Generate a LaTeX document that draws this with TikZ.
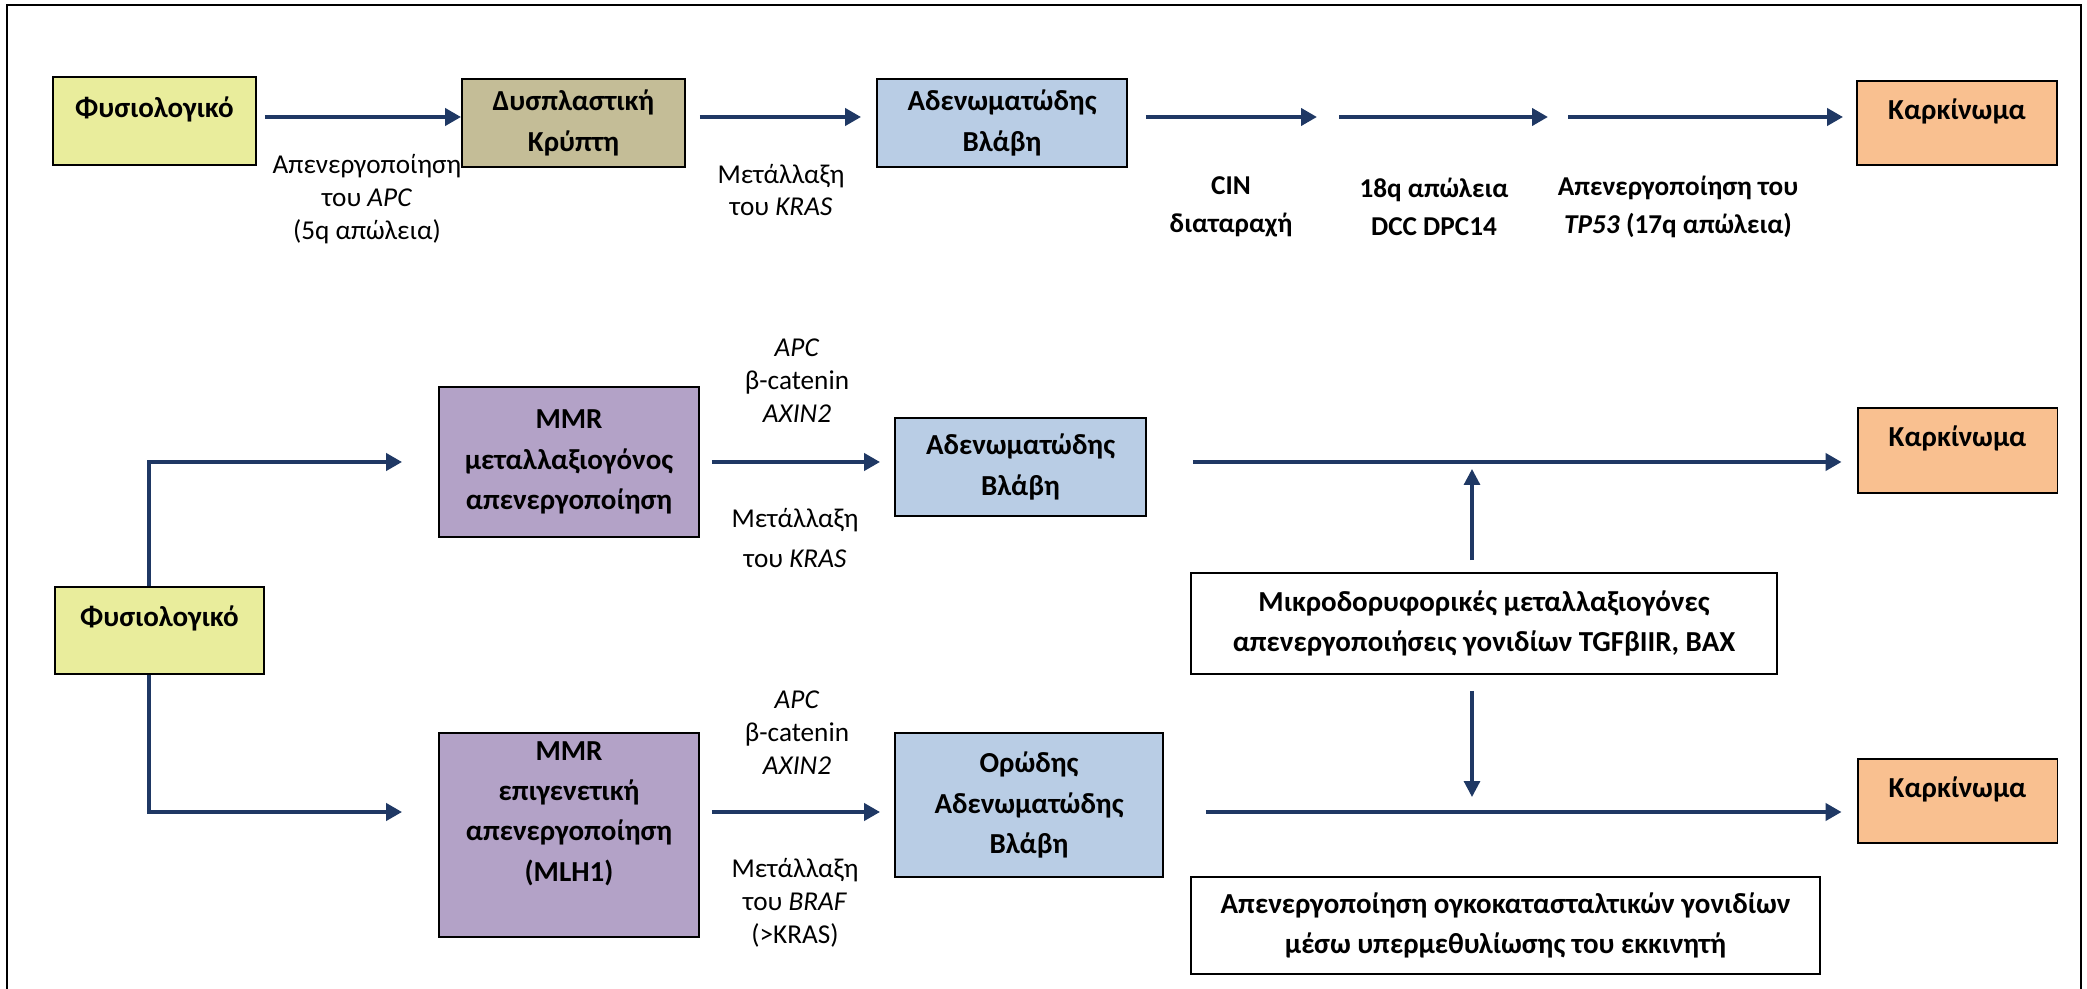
\documentclass[tikz,border=0pt]{standalone}
\usepackage{fontspec}
\setmainfont{Carlito}
\usetikzlibrary{positioning,arrows.meta,calc}
\definecolor{physyellow}{HTML}{E9ED9C}
\definecolor{dystan}{HTML}{C4BD97}
\definecolor{adenblue}{HTML}{B9CDE5}
\definecolor{carcorange}{HTML}{F9C090}
\definecolor{mmrpurple}{HTML}{B3A2C7}
\definecolor{arrownavy}{HTML}{1F3864}
\newcommand{\boxfont}{\fontsize{16.5}{23}\selectfont}
\newcommand{\lblfont}{\fontsize{15.5}{18.7}\selectfont}
\newcommand{\lblboldfont}{\fontsize{15.5}{21.5}\selectfont\bfseries}
\tikzset{
  stage/.style={draw=black,line width=1.1pt,align=center,
               font=\boxfont\bfseries,inner sep=2pt},
  physbox/.style={stage,fill=physyellow},
  dysbox/.style={stage,fill=dystan},
  adenbox/.style={stage,fill=adenblue},
  carcbox/.style={stage,fill=carcorange},
  mmrbox/.style={stage,fill=mmrpurple},
  notebox/.style={stage,fill=white},
  toptext/.style={text height=0.42cm,text depth=0.56cm},
  flow/.style={-{Triangle[length=0.32cm,width=0.34cm]},line width=2.3pt,arrownavy},
  feed/.style={-{Triangle[length=0.32cm,width=0.32cm]},line width=1.8pt,arrownavy},
  lbl/.style={align=center,font=\lblfont,inner sep=0pt},
  lblbold/.style={align=center,font=\lblboldfont,inner sep=0pt},
}

\begin{document}
\begin{tikzpicture}[x=0.02cm,y=-0.02cm]
  \useasboundingbox (0,0) rectangle (2087,989);
  \draw[line width=1.1pt] (7,1000) -- (7,5) -- (2081,5) -- (2081,1000);

  % row levels
  \coordinate (r1) at (0,117);
  \coordinate (r2) at (0,462);
  \coordinate (r3) at (0,812);

  % top pathway
  \node[physbox,toptext,minimum width=4.06cm,minimum height=1.76cm] (fys1) at (154.5,121) {Φυσιολογικό};
  \node[dysbox,minimum width=4.46cm,minimum height=1.76cm] (dysp) at (573.5,123) {Δυσπλαστική\\Κρύπτη};
  \node[adenbox,minimum width=5.0cm,minimum height=1.76cm] (aden1) at (1002,123) {Αδενωματώδης\\Βλάβη};
  \node[carcbox,toptext,minimum width=4.0cm,minimum height=1.68cm] (karc1) at (1957,123) {Καρκίνωμα};

  \coordinate (cin1) at (1317,117);
  \coordinate (del2) at (1339,117);
  \coordinate (del3) at (1548,117);
  \coordinate (tp1) at (1568,117);

  \draw[flow,shorten <=0.16cm] (fys1.east |- r1) -- (dysp.west |- r1);
  \draw[flow,shorten <=0.28cm,shorten >=0.3cm] (dysp.east |- r1) -- (aden1.west |- r1);
  \draw[flow,shorten <=0.36cm] (aden1.east |- r1) -- (cin1);
  \draw[flow] (del2) -- (del3);
  \draw[flow,shorten >=0.26cm] (tp1) -- (karc1.west |- r1);

  \node[lbl] (lapc) at (367,199) {Απενεργοποίηση\\του \textit{APC}\\(5q απώλεια)};
  \node[lbl] (lkras) at (781,190) {Μετάλλαξη\\του \textit{KRAS}};
  \node[lblbold] (lcin) at (1231,207) {CIN\\διαταραχή};
  \node[lblbold] (l18q) at (1434,207) {18q απώλεια\\DCC DPC14};
  \node[lblbold] (ltp53) at (1678,207) {Απενεργοποίηση του\\\textit{TP53} (17q απώλεια)};

  % lower pathways
  \node[physbox,toptext,minimum width=4.18cm,minimum height=1.74cm] (fys2) at (159.5,630.5) {Φυσιολογικό};
  \node[mmrbox,minimum width=5.2cm,minimum height=3.0cm] (mmr1) at (569,462) {MMR\\μεταλλαξιογόνος\\απενεργοποίηση};
  \node[mmrbox,minimum width=5.2cm,minimum height=4.08cm] (mmr2) at (569,835) {MMR\\επιγενετική\\απενεργοποίηση\\(MLH1)\\[4pt]};
  \node[adenbox,minimum width=5.02cm,minimum height=1.96cm] (aden2) at (1020.5,467) {Αδενωματώδης\\Βλάβη};
  \node[adenbox,minimum width=5.36cm,minimum height=2.88cm] (oro) at (1029,805) {Ορώδης\\Αδενωματώδης\\Βλάβη};
  \node[carcbox,toptext,minimum width=4.0cm,minimum height=1.7cm] (karc2) at (1957.5,450.5) {Καρκίνωμα};
  \node[carcbox,toptext,minimum width=4.0cm,minimum height=1.68cm] (karc3) at (1957.5,801) {Καρκίνωμα};
  \node[notebox,minimum width=11.72cm,minimum height=2.02cm] (micro) at (1484,623.5) {Μικροδορυφορικές μεταλλαξιογόνες\\απενεργοποιήσεις γονιδίων TGFβIIR, BAX};
  \node[notebox,minimum width=12.58cm,minimum height=1.94cm] (apen) at (1505.5,925.5) {Απενεργοποίηση ογκοκατασταλτικών γονιδίων\\μέσω υπερμεθυλίωσης του εκκινητή};

  \draw[flow,shorten >=0.72cm] ([xshift=-0.21cm]fys2.north) |- (mmr1.west);
  \draw[flow,shorten >=0.72cm] ([xshift=-0.21cm]fys2.south) |- (mmr2.west |- r3);
  \draw[flow,shorten <=0.24cm,shorten >=0.28cm] (mmr1.east) -- (aden2.west |- r2);
  \draw[flow,shorten <=0.24cm,shorten >=0.28cm] (mmr2.east |- r3) -- (oro.west |- r3);
  \draw[flow,shorten <=0.92cm,shorten >=0.3cm] (aden2.east |- r2) -- (karc2.west |- r2);
  \draw[flow,shorten <=0.84cm,shorten >=0.3cm] (oro.east |- r3) -- (karc3.west |- r3);
  \draw[feed,shorten <=0.24cm,shorten >=0.14cm] ([xshift=-0.24cm]micro.north) -- ([xshift=-0.24cm]micro.north |- r2);
  \draw[feed,shorten <=0.32cm,shorten >=0.3cm] ([xshift=-0.24cm]micro.south) -- ([xshift=-0.24cm]micro.south |- r3);

  \node[lbl] (lwnt1) at (797,381) {\textit{APC}\\β-catenin\\\textit{AXIN2}};
  \node[lbl] (lkras2) at (795,538) {Μετάλλαξη\\[4pt]του \textit{KRAS}};
  \node[lbl] (lwnt2) at (797,733) {\textit{APC}\\β-catenin\\\textit{AXIN2}};
  \node[lbl] (lbraf) at (795,903) {Μετάλλαξη\\του \textit{BRAF}\\(>KRAS)};
\end{tikzpicture}
\end{document}
